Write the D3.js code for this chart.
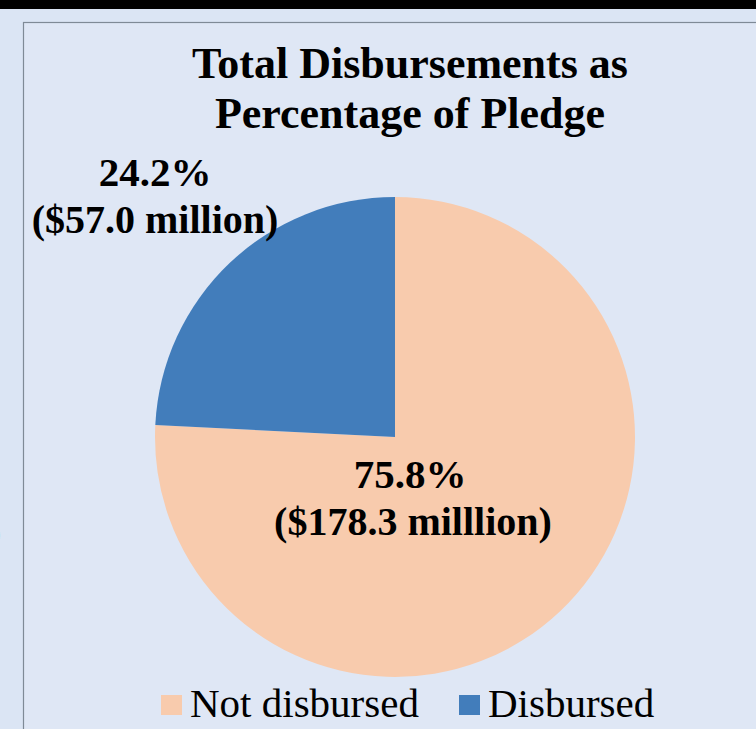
<!DOCTYPE html>
<html>
<head>
<meta charset="utf-8">
<script src="https://cdn.jsdelivr.net/npm/d3@7"></script>
<style>
  html, body { margin: 0; padding: 0; background: #dbe5f4; }
  svg { display: block; }
</style>
</head>
<body>
<div id="chart"></div>
<script>
// chart data
const categories = ['Not disbursed', 'Disbursed']
const percents = [75.8, 24.2]
const amounts = ['($178.3 milllion)', '($57.0 million)']
const titleLines = ['Total Disbursements as', 'Percentage of Pledge']
const colors = ['#f8cbad', '#427dbb']

const width = 756
const height = 729

const svg = d3.select('#chart')
    .append('svg')
    .attr('width', width)
    .attr('height', height)

// outer page and black top bar
svg.append('rect')
    .attr('width', width).attr('height', height)
    .style('fill', '#dbe5f4')
svg.append('rect')
    .attr('width', width).attr('height', 9)
    .style('fill', '#000')

// chart panel
svg.append('rect')
    .attr('x', 23.5).attr('y', 22.5)
    .attr('width', width + 10).attr('height', height)
    .style('fill', '#dfe7f5')
    .style('stroke', '#7f8a96')
    .style('stroke-width', 1.2)

// cut-off glyph from neighbouring chart
svg.append('text')
    .attr('x', -12).attr('y', 545)
    .style('font', 'bold 40px "Liberation Serif", serif')
    .text(')')

// title
svg.append('g')
    .selectAll('text')
    .data(titleLines)
    .enter()
    .append('text')
    .attr('x', 410)
    .attr('y', (d, i) => 78 + i * 50)
    .attr('text-anchor', 'middle')
    .style('font', 'bold 44px "Liberation Serif", serif')
    .style('fill', '#000')
    .text(d => d)

// pie
const cx = 395, cy = 437, r = 240
const pie = d3.pie().sort(null).value(d => d)
const arc = d3.arc().innerRadius(0).outerRadius(r)
const arcs = pie(percents)

const g = svg.append('g').attr('transform', `translate(${cx},${cy})`)
g.selectAll('path')
    .data(arcs)
    .enter()
    .append('path')
    .attr('d', arc)
    .style('fill', (d, i) => colors[i])

// data labels
const labelPos = [[410, 488], [155, 186]]
const labels = svg.append('g')
    .selectAll('text')
    .data(arcs)
    .enter()
    .append('text')
    .attr('text-anchor', 'middle')
    .style('font', 'bold 40px "Liberation Serif", serif')
    .style('fill', '#000')

labels.append('tspan')
    .attr('x', (d, i) => labelPos[i][0])
    .attr('y', (d, i) => labelPos[i][1])
    .style('font-size', '41px')
    .text((d, i) => d3.format('.1f')(percents[i]) + '%')
labels.append('tspan')
    .attr('x', (d, i) => labelPos[i][0] + (i === 1 ? 0 : 3))
    .attr('y', (d, i) => labelPos[i][1] + 47)
    .text((d, i) => amounts[i])

// legend
const legendX = [161, 459]
const legend = svg.append('g')
    .selectAll('g')
    .data(categories)
    .enter()
    .append('g')
    .attr('transform', (d, i) => `translate(${legendX[i]},695)`)
legend.append('rect')
    .attr('width', 21).attr('height', 20)
    .style('fill', (d, i) => colors[i])
legend.append('text')
    .attr('x', 29).attr('y', 22)
    .style('font', '41px "Liberation Serif", serif')
    .style('fill', '#000')
    .text(d => d)
</script>
</body>
</html>
